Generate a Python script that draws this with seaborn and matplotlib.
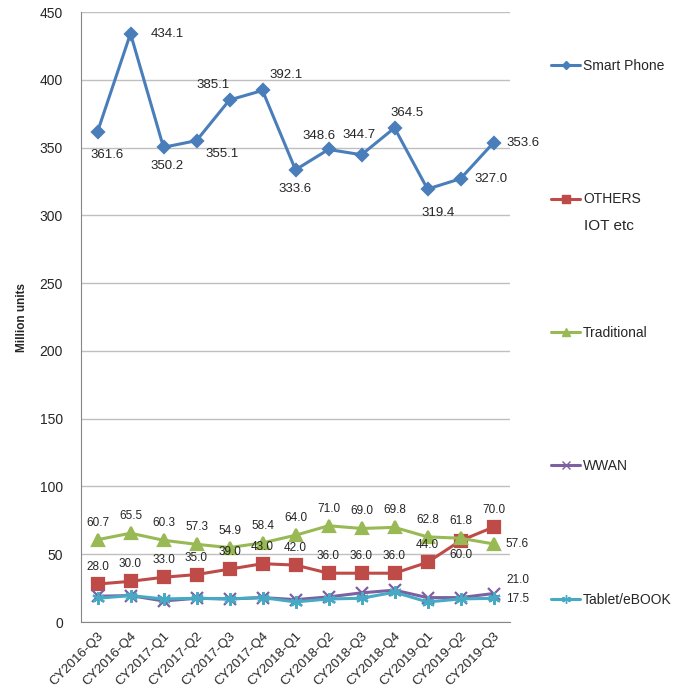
import numpy as np
import pandas as pd
import matplotlib
matplotlib.use('Agg')
import matplotlib.pyplot as plt
import seaborn as sns
from matplotlib.lines import Line2D

quarters = ['CY2016-Q3', 'CY2016-Q4', 'CY2017-Q1', 'CY2017-Q2', 'CY2017-Q3', 'CY2017-Q4',
            'CY2018-Q1', 'CY2018-Q2', 'CY2018-Q3', 'CY2018-Q4', 'CY2019-Q1', 'CY2019-Q2', 'CY2019-Q3']
smart_phone = [361.6, 434.1, 350.2, 355.1, 385.1, 392.1, 333.6, 348.6, 344.7, 364.5, 319.4, 327.0, 353.6]
others = [28.0, 30.0, 33.0, 35.0, 39.0, 43.0, 42.0, 36.0, 36.0, 36.0, 44.0, 60.0, 70.0]
traditional = [60.7, 65.5, 60.3, 57.3, 54.9, 58.4, 64.0, 71.0, 69.0, 69.8, 62.8, 61.8, 57.6]
wwan = [19.0, 19.5, 15.5, 17.5, 17.0, 18.0, 16.5, 18.5, 21.5, 23.5, 18.0, 18.0, 21.0]
tablet = [17.5, 19.5, 17.0, 17.5, 17.0, 18.0, 14.8, 17.0, 17.5, 22.0, 14.8, 17.0, 17.5]

sns.set_style('white')
plt.rcParams['font.family'] = ['Liberation Sans', 'DejaVu Sans']

fig = plt.figure(figsize=(6.75, 6.92), dpi=100)
ax = fig.add_axes([81/675, 1-622/692, (510-81)/675, (622-12)/692])

df = pd.DataFrame({'quarter': quarters, 'Smart Phone': smart_phone, 'OTHERS': others,
                   'Traditional': traditional, 'WWAN': wwan, 'Tablet/eBOOK': tablet})
df['x'] = np.arange(len(quarters))

series = [
    ('Smart Phone', '#4A7EBB', 'D', 6),
    ('OTHERS', '#BE4B48', 's', 8),
    ('Traditional', '#98B954', '^', 8),
    ('WWAN', '#7D60A0', 'x', 8),
    ('Tablet/eBOOK', '#46AAC5', (6, 2, 0), 9),
]
for name, col, mk, ms in series:
    sns.lineplot(data=df, x='x', y=name, ax=ax, color=col, marker=mk, markersize=ms,
                 markeredgecolor=col, markeredgewidth=1.6, linewidth=2.2, legend=False)

# value labels (pixel offsets)
sp_off = [(10, -23, 'center'), (20, 0, 'left'), (4, -19, 'center'), (26, -13, 'center'),
          (-16, 15, 'center'), (24, 15, 'center'), (0, -19, 'center'), (-9, 13, 'center'),
          (-2, 20, 'center'), (13, 15, 'center'), (11, -24, 'center'), (14, 0, 'left'),
          (13, 0, 'left')]
for i, v in enumerate(smart_phone):
    dx, dy, ha = sp_off[i]
    ax.annotate(f'{v:.1f}', (i, v), xytext=(dx, dy), textcoords='offset pixels',
                ha=ha, va='center', fontsize=9.5, color='#262626')

for i, v in enumerate(traditional[:-1]):
    ax.annotate(f'{v:.1f}', (i, v), xytext=(0, 17), textcoords='offset pixels',
                ha='center', va='center', fontsize=8.5, color='#262626')
ax.annotate(f'{traditional[-1]:.1f}', (12, traditional[-1]), xytext=(12, 0), textcoords='offset pixels',
            ha='left', va='center', fontsize=8.5, color='#262626')
for i, v in enumerate(others):
    dy = -14 if i == 11 else 17
    ax.annotate(f'{v:.1f}', (i, v), xytext=(0, dy), textcoords='offset pixels',
                ha='center', va='center', fontsize=8.5, color='#262626')
ax.annotate(f'{wwan[-1]:.1f}', (12, wwan[-1]), xytext=(13, 14), textcoords='offset pixels',
            ha='left', va='center', fontsize=8.5, color='#262626')
ax.annotate(f'{tablet[-1]:.1f}', (12, tablet[-1]), xytext=(13, -1), textcoords='offset pixels',
            ha='left', va='center', fontsize=8.5, color='#262626')

ax.set_ylim(0, 450)
ax.set_yticks(range(0, 451, 50))
ax.set_xlim(-0.5, 12.5)
ax.set_xticks(range(len(quarters)))
ax.set_xticklabels(quarters, rotation=45, ha='right', va='top', rotation_mode='anchor', fontsize=9.5)
ax.set_xticks(np.arange(-0.5, 13, 1), minor=True)
ax.tick_params(axis='x', which='major', length=0, pad=6)
ax.tick_params(axis='x', which='minor', length=5, color='#868686', direction='out')
ax.tick_params(axis='y', length=5, color='#868686', direction='out', pad=8, labelsize=10)
ax.yaxis.grid(True, color='#BFBFBF', linewidth=1)
ax.set_axisbelow(True)
for s in ['top', 'right']:
    ax.spines[s].set_visible(False)
for s in ['left', 'bottom']:
    ax.spines[s].set_color('#868686')
ax.set_xlabel('')
ax.set_ylabel('Million units', fontsize=8.5, fontweight='bold', labelpad=8)

handles = [Line2D([], [], color=col, marker=mk, markersize=ms * 0.7, markeredgecolor=col, linewidth=2.2)
           for name, col, mk, ms in series]
fig.legend(handles, [s[0] for s in series], loc='upper left', bbox_to_anchor=(551/675, 1-59/692),
           frameon=False, fontsize=10, handlelength=2.1, handletextpad=0.2, labelspacing=8.6,
           borderpad=0, borderaxespad=0)
fig.text(584/675, 1-226/692, 'IOT etc', fontsize=11, va='center', ha='left', color='#262626')

fig.savefig('out.png', dpi=100)
